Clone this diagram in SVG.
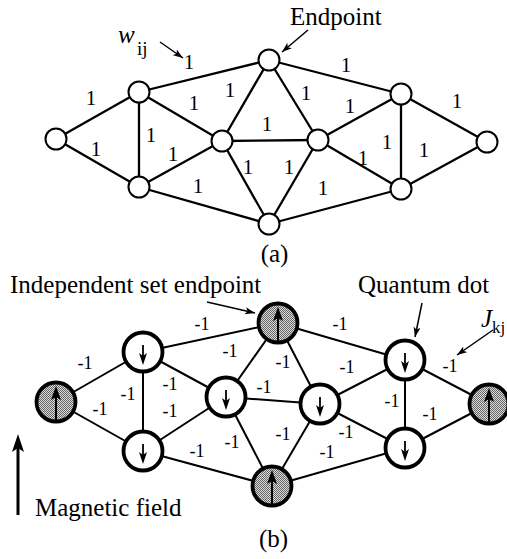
<svg xmlns="http://www.w3.org/2000/svg" width="507" height="559" viewBox="0 0 507 559" font-family="'Liberation Serif', 'DejaVu Serif', serif">
<style>
text{font-family:'Liberation Serif','DejaVu Serif',serif;fill:#000}
.t1{font-size:21px;text-anchor:middle}
.t2{font-size:18px;text-anchor:middle}
.lbl{font-size:25px}
.ea line{stroke:#000;stroke-width:2.3}
.eb line{stroke:#000;stroke-width:2}
.na{fill:#fff;stroke:#000;stroke-width:2}
.nw{fill:#fff;stroke:#000;stroke-width:3.8}
.ng{fill:url(#hatch);stroke:#000;stroke-width:3.8}
.pt{stroke:#000;stroke-width:1.5;fill:none}
</style>
<defs>
<pattern id="hatch" width="2" height="2" patternUnits="userSpaceOnUse">
<rect width="2" height="2" fill="#dadada"/>
<rect width="1" height="1" fill="#666"/>
<rect x="1" y="1" width="1" height="1" fill="#666"/>
</pattern>
<marker id="ah" markerWidth="11" markerHeight="8" refX="10" refY="3.5" orient="auto" markerUnits="userSpaceOnUse">
<path d="M0,0 L10,3.5 L0,7 L2.5,3.5 Z" fill="#000"/>
</marker>
<g id="sd"><line x1="0" y1="-7" x2="0" y2="4" stroke="#000" stroke-width="1.8"/><path d="M-4,1 L0,13 L4,1 L0,4 Z" fill="#000"/></g>
<g id="su"><line x1="0" y1="19" x2="0" y2="-6" stroke="#000" stroke-width="2"/><path d="M-5,-2 L0,-16 L5,-2 L0,-5 Z" fill="#000"/></g>
</defs>

<!-- (a) connectors -->
<g id="edges-a" class="ea">
<line x1="56" y1="139" x2="139" y2="92"/>
<line x1="56" y1="139" x2="139" y2="187"/>
<line x1="139" y1="92" x2="139" y2="187"/>
<line x1="139" y1="92" x2="269" y2="60"/>
<line x1="139" y1="92" x2="222" y2="141"/>
<line x1="139" y1="187" x2="222" y2="141"/>
<line x1="139" y1="187" x2="269" y2="224"/>
<line x1="269" y1="60" x2="222" y2="141"/>
<line x1="269" y1="60" x2="318" y2="140"/>
<line x1="222" y1="141" x2="318" y2="140"/>
<line x1="222" y1="141" x2="269" y2="224"/>
<line x1="318" y1="140" x2="269" y2="224"/>
<line x1="269" y1="60" x2="401" y2="94"/>
<line x1="318" y1="140" x2="401" y2="94"/>
<line x1="401" y1="94" x2="401" y2="189"/>
<line x1="318" y1="140" x2="401" y2="189"/>
<line x1="269" y1="224" x2="401" y2="189"/>
<line x1="401" y1="94" x2="487" y2="142"/>
<line x1="401" y1="189" x2="487" y2="142"/>
</g>
<g id="labels-a">
<text class="t1" x="189" y="69">1</text>
<text class="t1" x="346" y="72">1</text>
<text class="t1" x="91" y="105">1</text>
<text class="t1" x="194" y="110">1</text>
<text class="t1" x="230" y="97">1</text>
<text class="t1" x="306" y="100">1</text>
<text class="t1" x="350" y="113">1</text>
<text class="t1" x="457" y="108">1</text>
<text class="t1" x="267" y="131">1</text>
<text class="t1" x="151" y="142">1</text>
<text class="t1" x="96" y="156">1</text>
<text class="t1" x="173" y="161">1</text>
<text class="t1" x="198" y="193">1</text>
<text class="t1" x="248" y="174">1</text>
<text class="t1" x="289" y="174">1</text>
<text class="t1" x="323" y="195">1</text>
<text class="t1" x="363" y="165">1</text>
<text class="t1" x="387" y="149">1</text>
<text class="t1" x="424" y="157">1</text>
</g>
<g id="a-A"><circle class="na" cx="56" cy="139" r="10.5"/></g>
<g id="a-B"><circle class="na" cx="139" cy="92" r="10.5"/></g>
<g id="a-C"><circle class="na" cx="139" cy="187" r="10.5"/></g>
<g id="a-D"><circle class="na" cx="269" cy="60" r="10.5"/></g>
<g id="a-E"><circle class="na" cx="222" cy="141" r="10.5"/></g>
<g id="a-F"><circle class="na" cx="318" cy="140" r="10.5"/></g>
<g id="a-G"><circle class="na" cx="269" cy="224" r="10.5"/></g>
<g id="a-H"><circle class="na" cx="401" cy="94" r="10.5"/></g>
<g id="a-I"><circle class="na" cx="401" cy="189" r="10.5"/></g>
<g id="a-J"><circle class="na" cx="487" cy="142" r="10.5"/></g>

<g id="ann-a">
<text class="lbl" x="290" y="25">Endpoint</text>
<line class="pt" x1="308" y1="30" x2="282" y2="52" marker-end="url(#ah)"/>
<text x="118" y="43" style="font-size:25px;font-style:italic">w</text>
<text x="137" y="55" style="font-size:19px">ij</text>
<line class="pt" x1="160" y1="42" x2="183" y2="58" marker-end="url(#ah)"/>
<text class="lbl" x="274.5" y="262" text-anchor="middle">(a)</text>
</g>

<!-- (b) connectors -->
<g id="edges-b" class="eb">
<line x1="56" y1="402" x2="143" y2="352"/>
<line x1="56" y1="402" x2="143" y2="451"/>
<line x1="143" y1="352" x2="143" y2="451"/>
<line x1="143" y1="352" x2="278" y2="323"/>
<line x1="143" y1="352" x2="226" y2="397"/>
<line x1="143" y1="451" x2="226" y2="397"/>
<line x1="143" y1="451" x2="272" y2="486"/>
<line x1="278" y1="323" x2="226" y2="397"/>
<line x1="278" y1="323" x2="320" y2="404"/>
<line x1="226" y1="397" x2="320" y2="404"/>
<line x1="226" y1="397" x2="272" y2="486"/>
<line x1="320" y1="404" x2="272" y2="486"/>
<line x1="278" y1="323" x2="405" y2="360"/>
<line x1="320" y1="404" x2="405" y2="360"/>
<line x1="405" y1="360" x2="405" y2="448"/>
<line x1="320" y1="404" x2="405" y2="448"/>
<line x1="272" y1="486" x2="405" y2="448"/>
<line x1="405" y1="360" x2="489" y2="404"/>
<line x1="405" y1="448" x2="489" y2="404"/>
</g>
<g id="labels-b">
<text class="t2" x="85" y="369">-1</text>
<text class="t2" x="202" y="330">-1</text>
<text class="t2" x="230" y="357">-1</text>
<text class="t2" x="170" y="390">-1</text>
<text class="t2" x="128" y="400">-1</text>
<text class="t2" x="100" y="415">-1</text>
<text class="t2" x="170" y="417">-1</text>
<text class="t2" x="197" y="457">-1</text>
<text class="t2" x="232" y="448">-1</text>
<text class="t2" x="340" y="330">-1</text>
<text class="t2" x="283" y="368">-1</text>
<text class="t2" x="347" y="373">-1</text>
<text class="t2" x="264" y="393">-1</text>
<text class="t2" x="450" y="372">-1</text>
<text class="t2" x="392" y="407">-1</text>
<text class="t2" x="430" y="420">-1</text>
<text class="t2" x="283" y="440">-1</text>
<text class="t2" x="346" y="438">-1</text>
<text class="t2" x="327" y="458">-1</text>
</g>
<g id="b-A"><circle class="ng" cx="56" cy="402" r="19.5"/><use href="#su" x="56" y="402"/></g>
<g id="b-B"><circle class="nw" cx="143" cy="352" r="19.5"/><use href="#sd" x="143" y="352"/></g>
<g id="b-C"><circle class="nw" cx="143" cy="451" r="19.5"/><use href="#sd" x="143" y="451"/></g>
<g id="b-D"><circle class="ng" cx="278" cy="323" r="19.5"/><use href="#su" x="278" y="323"/></g>
<g id="b-E"><circle class="nw" cx="226" cy="397" r="19.5"/><use href="#sd" x="226" y="397"/></g>
<g id="b-F"><circle class="nw" cx="320" cy="404" r="19.5"/><use href="#sd" x="320" y="404"/></g>
<g id="b-G"><circle class="ng" cx="272" cy="486" r="19.5"/><use href="#su" x="272" y="486"/></g>
<g id="b-H"><circle class="nw" cx="405" cy="360" r="19.5"/><use href="#sd" x="405" y="360"/></g>
<g id="b-I"><circle class="nw" cx="405" cy="448" r="19.5"/><use href="#sd" x="405" y="448"/></g>
<g id="b-J"><circle class="ng" cx="489" cy="404" r="19.5"/><use href="#su" x="489" y="404"/></g>

<g id="ann-b">
<text class="lbl" x="10" y="293">Independent set endpoint</text>
<line class="pt" x1="207" y1="302" x2="255" y2="313" marker-end="url(#ah)"/>
<text class="lbl" x="358" y="293">Quantum dot</text>
<line class="pt" x1="422" y1="303" x2="415" y2="337" marker-end="url(#ah)"/>
<text x="481" y="327" style="font-size:25px;font-style:italic">J</text>
<text x="492" y="333" style="font-size:17px">kj</text>
<line class="pt" x1="493" y1="330" x2="457" y2="355" marker-end="url(#ah)"/>
<line x1="18" y1="515" x2="18" y2="445" stroke="#000" stroke-width="3"/>
<path d="M18,434 L24,452 L18,448 L12,452 Z" fill="#000"/>
<text class="lbl" x="35" y="516">Magnetic field</text>
<text class="lbl" x="273.5" y="547" text-anchor="middle">(b)</text>
</g>
</svg>
